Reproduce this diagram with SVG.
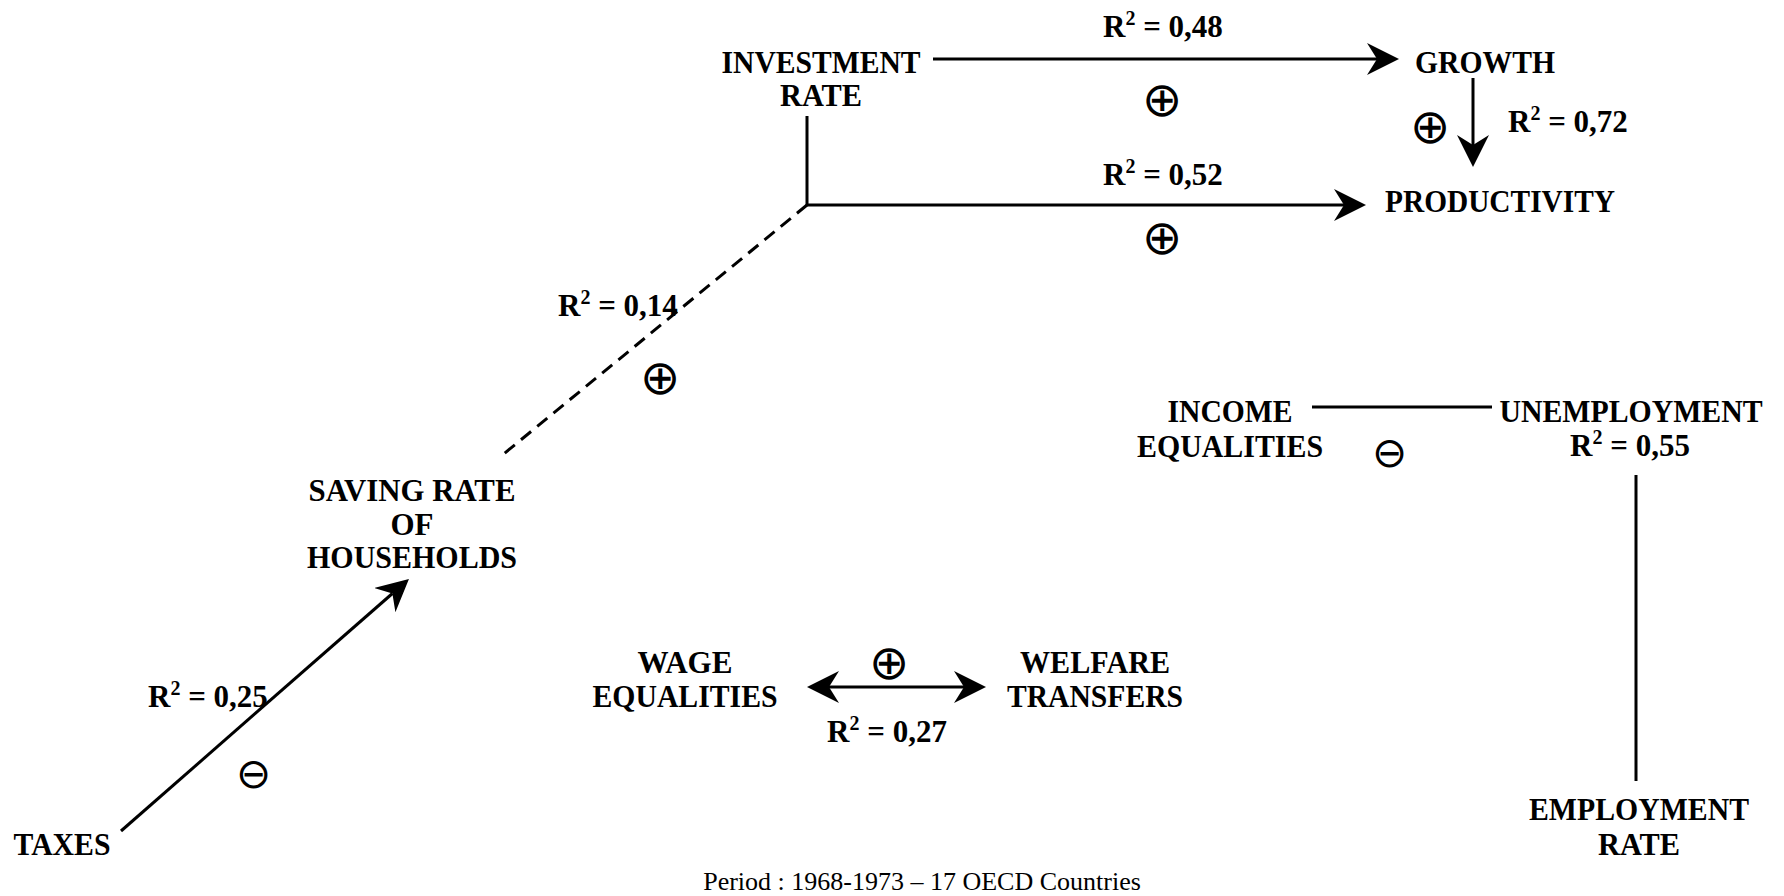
<svg xmlns="http://www.w3.org/2000/svg" width="1784" height="896" viewBox="0 0 1784 896">
<style>
.lbl{font-family:"Liberation Serif","Times New Roman",serif;font-weight:bold;font-size:31px;fill:#000}
.mid{text-anchor:middle}
.sup{font-size:20px}
.sym{font-family:"DejaVu Sans",sans-serif;font-size:42px;font-weight:200;fill:#000;text-anchor:middle;dominant-baseline:central}
.symb{font-weight:normal;font-size:48px}
.ln{stroke:#000;stroke-width:3;fill:none}
.foot{font-family:"Liberation Serif","Times New Roman",serif;font-size:26px;fill:#000;text-anchor:middle}
</style>
<defs>
<marker id="ah" markerUnits="userSpaceOnUse" markerWidth="40" markerHeight="40" refX="10" refY="16" orient="auto-start-reverse">
<path d="M0,0 L32,16 L0,32 L10,16 Z" fill="#000"/>
</marker>
</defs>
<rect width="1784" height="896" fill="#fff"/>
<g id="connectors">
<line class="ln" x1="933" y1="59" x2="1377" y2="59" marker-end="url(#ah)"/>
<polyline class="ln" points="807,116 807,205 1344,205" marker-end="url(#ah)"/>
<line class="ln" x1="807" y1="205" x2="500" y2="457" stroke-dasharray="13 8"/>
<line class="ln" x1="1473" y1="78" x2="1473" y2="145" marker-end="url(#ah)"/>
<line class="ln" x1="121" y1="831" x2="392.4" y2="593.5" marker-end="url(#ah)"/>
<line class="ln" x1="829" y1="687" x2="964" y2="687" marker-start="url(#ah)" marker-end="url(#ah)"/>
<line class="ln" x1="1312" y1="407" x2="1492" y2="407"/>
<line class="ln" x1="1636" y1="475" x2="1636" y2="781"/>
</g>
<g id="labels">
<text class="lbl" x="1103" y="37">R<tspan class="sup" dy="-12">2</tspan><tspan dy="12"> = 0,48</tspan></text>
<text class="sym symb" x="1162" y="99">⊕</text>
<text class="lbl" x="1103" y="185">R<tspan class="sup" dy="-12">2</tspan><tspan dy="12"> = 0,52</tspan></text>
<text class="sym symb" x="1162" y="237">⊕</text>
<text class="sym symb" x="1430" y="126">⊕</text>
<text class="lbl" x="1508" y="132">R<tspan class="sup" dy="-12">2</tspan><tspan dy="12"> = 0,72</tspan></text>
<text class="lbl" x="558" y="316">R<tspan class="sup" dy="-12">2</tspan><tspan dy="12"> = 0,14</tspan></text>
<text class="sym symb" x="660" y="377">⊕</text>
<text class="lbl" x="148" y="707">R<tspan class="sup" dy="-12">2</tspan><tspan dy="12"> = 0,25</tspan></text>
<text class="sym" x="253" y="773">⊖</text>
<text class="sym symb" x="889" y="662">⊕</text>
<text class="lbl mid" x="887" y="742">R<tspan class="sup" dy="-12">2</tspan><tspan dy="12"> = 0,27</tspan></text>
<text class="sym" x="1389" y="452">⊖</text>
</g>
<g id="investment-rate"><text class="lbl mid" x="821" y="73" textLength="199" lengthAdjust="spacingAndGlyphs">INVESTMENT</text><text class="lbl mid" x="821" y="106" textLength="82" lengthAdjust="spacingAndGlyphs">RATE</text></g>
<g id="growth"><text class="lbl mid" x="1485" y="73" textLength="140" lengthAdjust="spacingAndGlyphs">GROWTH</text></g>
<g id="productivity"><text class="lbl mid" x="1500" y="212" textLength="230" lengthAdjust="spacingAndGlyphs">PRODUCTIVITY</text></g>
<g id="saving-rate"><text class="lbl mid" x="412" y="501" textLength="207" lengthAdjust="spacingAndGlyphs">SAVING RATE</text><text class="lbl mid" x="412" y="535">OF</text><text class="lbl mid" x="412" y="568" textLength="210" lengthAdjust="spacingAndGlyphs">HOUSEHOLDS</text></g>
<g id="taxes"><text class="lbl mid" x="62" y="855" textLength="97" lengthAdjust="spacingAndGlyphs">TAXES</text></g>
<g id="wage-equalities"><text class="lbl mid" x="685" y="673" textLength="95" lengthAdjust="spacingAndGlyphs">WAGE</text><text class="lbl mid" x="685" y="707" textLength="185" lengthAdjust="spacingAndGlyphs">EQUALITIES</text></g>
<g id="welfare-transfers"><text class="lbl mid" x="1095" y="673" textLength="150" lengthAdjust="spacingAndGlyphs">WELFARE</text><text class="lbl mid" x="1095" y="707" textLength="176" lengthAdjust="spacingAndGlyphs">TRANSFERS</text></g>
<g id="income-equalities"><text class="lbl mid" x="1230" y="422" textLength="125" lengthAdjust="spacingAndGlyphs">INCOME</text><text class="lbl mid" x="1230" y="457" textLength="186" lengthAdjust="spacingAndGlyphs">EQUALITIES</text></g>
<g id="unemployment"><text class="lbl mid" x="1631" y="422" textLength="263" lengthAdjust="spacingAndGlyphs">UNEMPLOYMENT</text><text class="lbl mid" x="1630" y="456">R<tspan class="sup" dy="-12">2</tspan><tspan dy="12"> = 0,55</tspan></text></g>
<g id="employment-rate"><text class="lbl mid" x="1639" y="820" textLength="220" lengthAdjust="spacingAndGlyphs">EMPLOYMENT</text><text class="lbl mid" x="1639" y="855" textLength="82" lengthAdjust="spacingAndGlyphs">RATE</text></g>
<g id="footer"><text class="foot" x="922" y="890">Period : 1968-1973 – 17 OECD Countries</text></g>
</svg>
